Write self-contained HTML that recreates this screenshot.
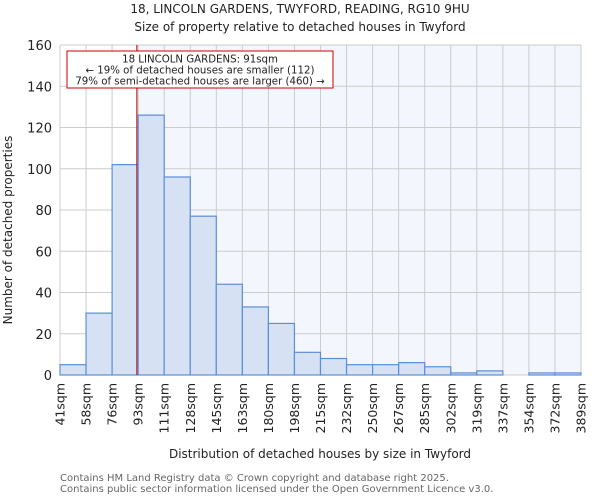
<!DOCTYPE html>
<html><head><meta charset="utf-8"><style>
body{margin:0;background:#fff;font-family:"DejaVu Sans","Liberation Sans",sans-serif;}
</style></head><body>
<svg width="600" height="500" xmlns="http://www.w3.org/2000/svg" font-family="DejaVu Sans, Liberation Sans, sans-serif">
<text x="300" y="13" text-anchor="middle" font-size="12" fill="#222">18, LINCOLN GARDENS, TWYFORD, READING, RG10 9HU</text>
<text x="300" y="31" text-anchor="middle" font-size="12" fill="#222">Size of property relative to detached houses in Twyford</text>
<g id="plot"></g>
<text transform="translate(12,230) rotate(-90)" text-anchor="middle" font-size="12" fill="#222">Number of detached properties</text>
<text x="320" y="458" text-anchor="middle" font-size="12" fill="#222">Distribution of detached houses by size in Twyford</text>
<text x="60" y="481" font-size="10" fill="#666">Contains HM Land Registry data © Crown copyright and database right 2025.</text>
<text x="60" y="492" font-size="10" fill="#666">Contains public sector information licensed under the Open Government Licence v3.0.</text>
</svg>
<script>
const categories=["41sqm","58sqm","76sqm","93sqm","111sqm","128sqm","145sqm","163sqm","180sqm","198sqm","215sqm","232sqm","250sqm","267sqm","285sqm","302sqm","319sqm","337sqm","354sqm","372sqm","389sqm"];
const counts=[5,30,102,126,96,77,44,33,25,11,8,5,5,6,4,1,2,0,1,1];
const yTicks=[0,20,40,60,80,100,120,140,160];
const propertySize=91;
const binStart=41, binEnd=389;
const X0=60,X1=581,Y0=375,Y1=45,YMAX=160;
const NS="http://www.w3.org/2000/svg";
const g=document.getElementById('plot');
const bw=(X1-X0)/counts.length;
const xs=i=>X0+i*bw;
const ys=v=>Y0-(v/YMAX)*(Y0-Y1);
const xv=v=>X0+(v-binStart)/(binEnd-binStart)*(X1-X0)+2;
function mk(t,a){const e=document.createElementNS(NS,t);for(const k in a)e.setAttribute(k,a[k]);g.appendChild(e);return e;}
const redX=xv(propertySize);
let e=mk('rect',{x:X0,y:Y1,width:X1-X0,height:Y0-Y1,fill:'#fff'});


e=mk('rect',{x:redX,y:Y1,width:X1-redX,height:Y0-Y1,fill:'#f3f6fd'});


categories.forEach((c,i)=>{
 const x=xs(i);
 e=mk('line',{x1:x,x2:x,y1:Y1,y2:Y0,stroke:'#ccc','stroke-width':1});
 
 
 e=mk('text',{transform:`translate(${x+4.5},${Y0+8}) rotate(-90)`,'text-anchor':'end','font-size':'12.5',fill:'#222'});
 e.textContent=c;
 
 
});
yTicks.forEach(v=>{
 const y=ys(v);
 e=mk('line',{x1:X0,x2:X1,y1:y,y2:y,stroke:'#ccc','stroke-width':1});
 
 
 e=mk('text',{x:X0-8,y:y+5,'text-anchor':'end','font-size':'13',fill:'#222'});
 e.textContent=v;
 
 
});
counts.forEach((v,i)=>{
 if(v<=0)return;
 e=mk('rect',{x:xs(i),y:ys(v),width:bw,height:Y0-ys(v),fill:'#d6e1f3',stroke:'#5b8fd6','stroke-width':1.2});
 
 
});
e=mk('line',{x1:redX,x2:redX,y1:Y1,y2:Y0,stroke:'#b00','stroke-width':1});


e=mk('rect',{x:67,y:51,width:266,height:37,fill:'#fff',stroke:'#c00','stroke-width':1});


["18 LINCOLN GARDENS: 91sqm","← 19% of detached houses are smaller (112)","79% of semi-detached houses are larger (460) →"].forEach((t,i)=>{
 e=mk('text',{x:200,y:62.5+i*11,'text-anchor':'middle','font-size':'10.2',fill:'#222'});
 e.textContent=t;
 
 
});
</script>
</body></html>
